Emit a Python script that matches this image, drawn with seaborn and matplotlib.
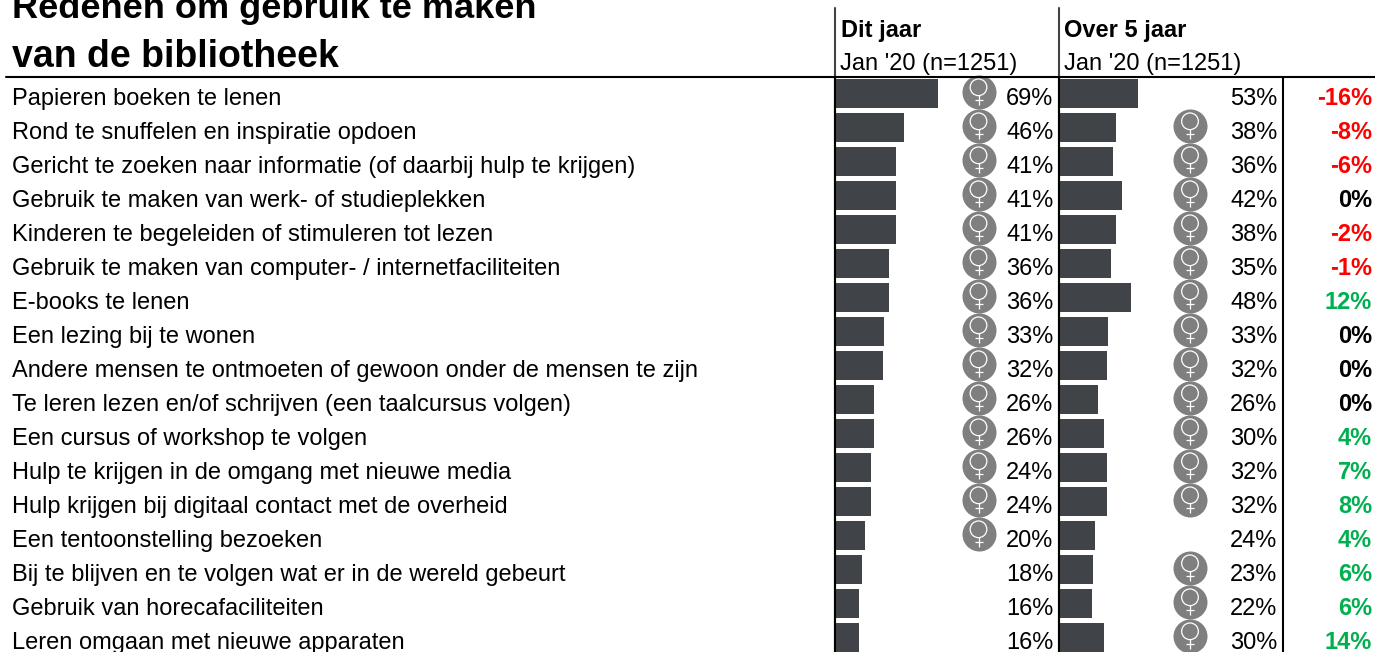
import pandas as pd
import matplotlib
matplotlib.use("Agg")
import matplotlib.pyplot as plt
import seaborn as sns

labels = [
    "Papieren boeken te lenen",
    "Rond te snuffelen en inspiratie opdoen",
    "Gericht te zoeken naar informatie (of daarbij hulp te krijgen)",
    "Gebruik te maken van werk- of studieplekken",
    "Kinderen te begeleiden of stimuleren tot lezen",
    "Gebruik te maken van computer- / internetfaciliteiten",
    "E-books te lenen",
    "Een lezing bij te wonen",
    "Andere mensen te ontmoeten of gewoon onder de mensen te zijn",
    "Te leren lezen en/of schrijven (een taalcursus volgen)",
    "Een cursus of workshop te volgen",
    "Hulp te krijgen in de omgang met nieuwe media",
    "Hulp krijgen bij digitaal contact met de overheid",
    "Een tentoonstelling bezoeken",
    "Bij te blijven en te volgen wat er in de wereld gebeurt",
    "Gebruik van horecafaciliteiten",
    "Leren omgaan met nieuwe apparaten",
]
dit_jaar = [69, 46, 41, 41, 41, 36, 36, 33, 32, 26, 26, 24, 24, 20, 18, 16, 16]
over_5 = [53, 38, 36, 42, 38, 35, 48, 33, 32, 26, 30, 32, 32, 24, 23, 22, 30]
diff = [-16, -8, -6, 0, -2, -1, 12, 0, 0, 0, 4, 7, 8, 4, 6, 6, 14]
vrouw_dit = [1, 1, 1, 1, 1, 1, 1, 1, 1, 1, 1, 1, 1, 1, 0, 0, 0]
vrouw_over = [0, 1, 1, 1, 1, 1, 1, 1, 1, 1, 1, 1, 1, 0, 1, 1, 1]

W, H = 1375, 652
BASE0, PITCH = 105, 34   # tekstbasislijn eerste rij
BAR0 = 93.3              # midden eerste balk
TOP = 77
SCALE = 1.49             # pixels per procentpunt
BAR = "#404347"
GREY = "#7f7f7f"

sns.set_theme(style="white")
plt.rcParams["font.family"] = ["Liberation Sans", "DejaVu Sans"]
plt.rcParams["text.hinting"] = "native"

fig = plt.figure(figsize=(W / 100, H / 100), dpi=100)


def px(x, y, s, **kw):
    fig.text(x / W, 1 - y / H, s, va="baseline", color=kw.pop("color", "black"), **kw)


def panel(x0, x1, values, flags, circle_x):
    ax = fig.add_axes([x0 / W, 0, (x1 - x0) / W, (H - TOP) / H])
    n = len(values)
    df = pd.DataFrame({"row": range(n), "v": values})
    sns.barplot(data=df, x="v", y="row", orient="h", order=range(n),
                color=BAR, saturation=1, width=29 / PITCH, linewidth=0, ax=ax)
    ax.set_xlim(0, (x1 - x0) / SCALE)
    ax.set_ylim((H - BAR0) / PITCH, (TOP - BAR0) / PITCH)
    ax.axis("off")
    cx = (circle_x - x0) / SCALE
    for i, (v, f) in enumerate(zip(values, flags)):
        px(x1 - 5.5, BASE0 + i * PITCH, f"{v}%", ha="right", fontsize=17)
        if f:
            ax.scatter(cx, i - 0.8 / PITCH, s=600, color=GREY, linewidths=0,
                       zorder=3, clip_on=False)
            ax.scatter(cx, i - 6 / PITCH, s=144, facecolors="none", edgecolors="white",
                       linewidths=0.9, zorder=4)
            ax.scatter(cx, i + 6.7 / PITCH, s=52, marker="|", color="white",
                       linewidths=0.9, zorder=4)
            ax.scatter(cx, i + 6.7 / PITCH, s=33, marker="_", color="white",
                       linewidths=0.9, zorder=4)
    return ax


panel(835, 1059, dit_jaar, vrouw_dit, 978.5)
panel(1059, 1283, over_5, vrouw_over, 1190)

for i, (lab, d) in enumerate(zip(labels, diff)):
    y = BASE0 + i * PITCH
    px(12, y, lab, ha="left", fontsize=17)
    c = "#ff0000" if d < 0 else ("#00b050" if d > 0 else "black")
    px(1372, y, f"{d}%", ha="right", fontsize=17, color=c, fontweight="bold")

px(12, 18, "Redenen om gebruik te maken", fontsize=26, fontweight="bold")
px(12, 67, "van de bibliotheek", fontsize=27, fontweight="bold")
px(841, 36.5, "Dit jaar", fontsize=17, fontweight="bold")
px(1064, 36.5, "Over 5 jaar", fontsize=17, fontweight="bold")
px(840, 70, "Jan '20 (n=1251)", fontsize=17)
px(1064, 70, "Jan '20 (n=1251)", fontsize=17)

# kaderlijnen
for x, y0, c in [(835, 8, BAR), (1058.5, 8, BAR), (1283, TOP, "black")]:
    fig.add_artist(plt.Line2D([x / W, x / W], [1 - y0 / H, 0], color=c, lw=1.5))
for x in (835, 1058.5):
    fig.add_artist(plt.Line2D([x / W, x / W], [1 - TOP / H, 0], color="black", lw=1.5))
fig.add_artist(plt.Line2D([6 / W, 1], [1 - TOP / H, 1 - TOP / H], color="black", lw=1.5))

fig.savefig("out.png", dpi=100)
